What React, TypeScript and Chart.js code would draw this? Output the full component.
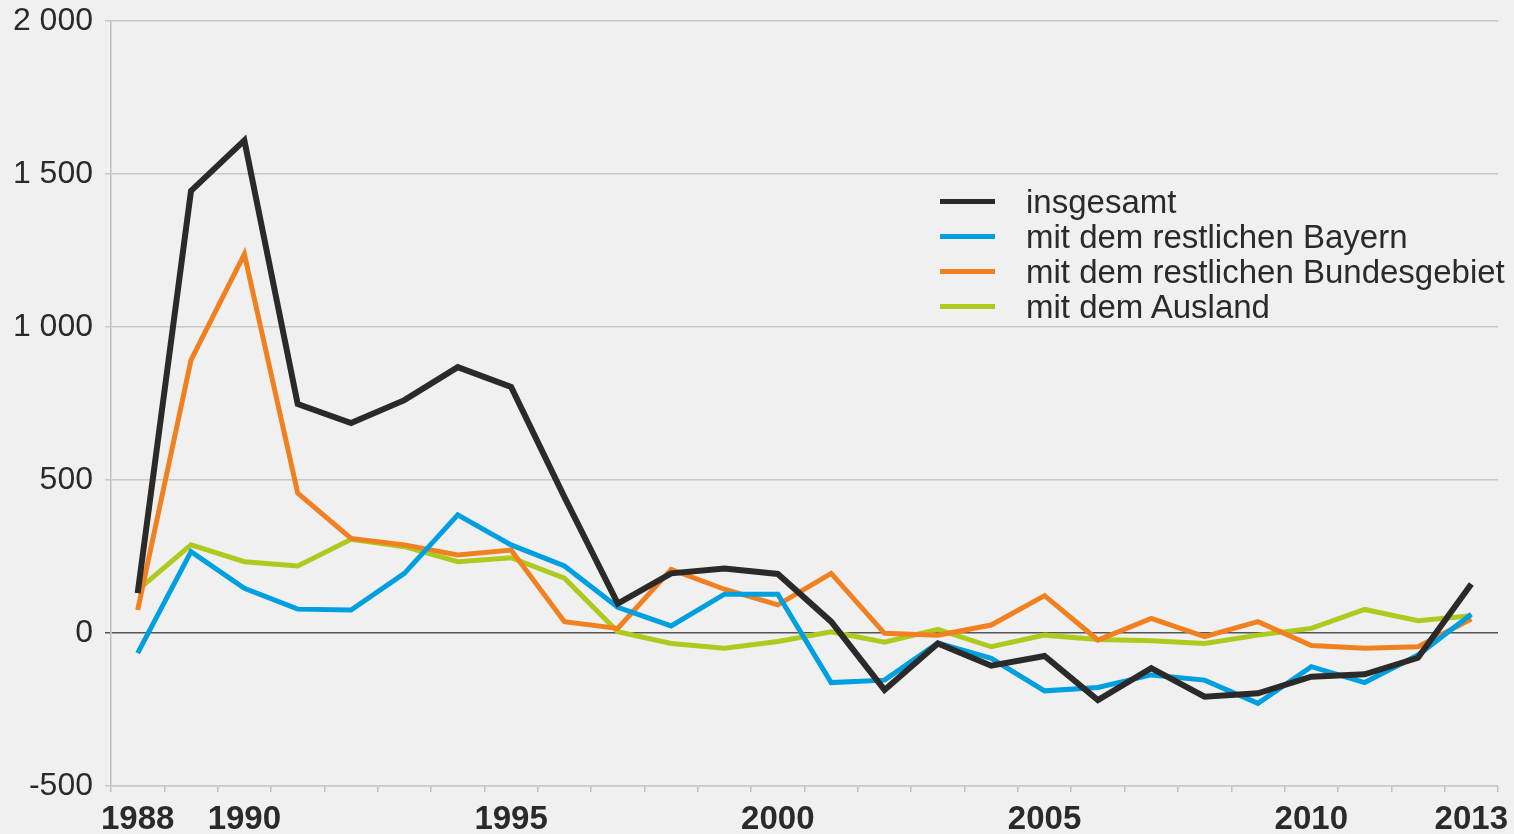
import React, { useEffect, useRef } from "react";
import { Chart, registerables } from "chart.js";

Chart.register(...registerables);

const years = [
  "1988", "1989", "1990", "1991", "1992", "1993", "1994", "1995", "1996", "1997",
  "1998", "1999", "2000", "2001", "2002", "2003", "2004", "2005", "2006", "2007",
  "2008", "2009", "2010", "2011", "2012", "2013",
];
const shownYears = ["1988", "1990", "1995", "2000", "2005", "2010", "2013"];

const insgesamt = [
  130, 1445, 1610, 748, 686, 761, 869, 804, 444, 96,
  195, 211, 193, 37, -186, -34, -107, -75, -219, -115,
  -208, -197, -143, -135, -81, 160,
];
const bayern = [
  -66, 266, 146, 78, 75, 195, 386, 288, 219, 84,
  23, 127, 127, -162, -154, -33, -83, -189, -178, -137,
  -154, -230, -110, -162, -72, 61,
];
const bundesgebiet = [
  75, 892, 1238, 457, 309, 288, 255, 271, 37, 15,
  208, 143, 92, 195, -1, -7, 26, 122, -23, 48,
  -12, 37, -41, -50, -45, 46,
];
const ausland = [
  140, 288, 233, 219, 306, 282, 233, 246, 179, 4,
  -34, -50, -28, 4, -30, 12, -45, -7, -21, -25,
  -34, -7, 15, 77, 40, 56,
];

const seriesNames = [
  "insgesamt",
  "mit dem restlichen Bayern",
  "mit dem restlichen Bundesgebiet",
  "mit dem Ausland",
];
const seriesColors = ["#2b2a29", "#00a0e0", "#f08020", "#afca1e"];
const yTicks = [-500, 0, 500, 1000, 1500, 2000];

const TEXT = "#2b2a29";
const FONT = "'Liberation Sans', Arial, Helvetica, sans-serif";

function fmt(v: number): string {
  const s = Math.abs(v).toString().replace(/\B(?=(\d{3})+(?!\d))/g, " ");
  return (v < 0 ? "-" : "") + s;
}

export default function App() {
  const ref = useRef<HTMLCanvasElement | null>(null);

  useEffect(() => {
    document.body.style.margin = "0";
    document.body.style.background = "#f0f0f0";
    const canvas = ref.current;
    if (!canvas) return;
    const values = [insgesamt, bayern, bundesgebiet, ausland];
    const chart = new Chart(canvas, {
      type: "line",
      data: {
        labels: years,
        datasets: values.map((v, i) => ({
          label: seriesNames[i],
          data: v,
          borderColor: seriesColors[i],
          backgroundColor: seriesColors[i],
          borderWidth: i === 0 ? 6 : 5,
          pointRadius: 0,
          pointHoverRadius: 0,
          tension: 0,
          fill: false,
          borderJoinStyle: "miter" as const,
          borderCapStyle: "butt" as const,
        })),
      },
      options: {
        animation: false,
        responsive: false,
        maintainAspectRatio: false,
        layout: { padding: { top: 21, right: 16, left: 0, bottom: 0 } },
        plugins: {
          legend: { display: false },
          tooltip: { enabled: false },
          title: { display: false },
        },
        scales: {
          x: {
            type: "category",
            offset: true,
            grid: {
              offset: true,
              drawOnChartArea: false,
              drawTicks: true,
              tickLength: 6,
              color: "#c0c0c0",
              lineWidth: 1.5,
            },
            border: { display: true, color: "#c8c8c8", width: 1.5 },
            ticks: {
              autoSkip: false,
              maxRotation: 0,
              minRotation: 0,
              padding: 8,
              color: TEXT,
              font: { family: FONT, size: 33, weight: "bold" },
              callback: function (_v: any, idx: number) {
                const l = years[idx];
                return shownYears.includes(l) ? l : "";
              },
            },
            afterFit: (scale: any) => {
              scale.height = 48;
              scale.paddingLeft = 0;
              scale.paddingRight = 0;
            },
          },
          y: {
            min: -500,
            max: 2000,
            afterBuildTicks: (scale: any) => {
              scale.ticks = yTicks.map((v) => ({ value: v }));
            },
            grid: {
              color: (ctx: any) => (ctx.tick && ctx.tick.value === 0 ? "#555555" : "#c8c8c8"),
              lineWidth: 1.5,
              tickLength: 6,
              drawTicks: true,
            },
            border: { display: true, color: "#c0c0c0", width: 1.5 },
            ticks: {
              padding: 12,
              color: TEXT,
              font: { family: FONT, size: 32, lineHeight: 0.5 },
              callback: (v: any) => fmt(Number(v)),
            },
            afterFit: (scale: any) => {
              scale.width = 111;
              scale.paddingTop = 0;
              scale.paddingBottom = 0;
            },
          },
        },
      },
    });
    return () => chart.destroy();
  }, []);

  return (
    <div style={{ position: "relative", width: 1514, height: 834, background: "#f0f0f0", overflow: "hidden" }}>
      <canvas ref={ref} width={1514} height={834} style={{ display: "block" }} />
      <div style={{ position: "absolute", left: 940, top: 184, fontFamily: FONT, fontSize: 33, color: TEXT }}>
        {seriesNames.map((n, i) => (
          <div key={n} style={{ display: "flex", alignItems: "center", height: 35, whiteSpace: "nowrap" }}>
            <div style={{ width: 55, height: 5, background: seriesColors[i], marginRight: 31 }} />
            <span style={{ lineHeight: "35px" }}>{n}</span>
          </div>
        ))}
      </div>
    </div>
  );
}
